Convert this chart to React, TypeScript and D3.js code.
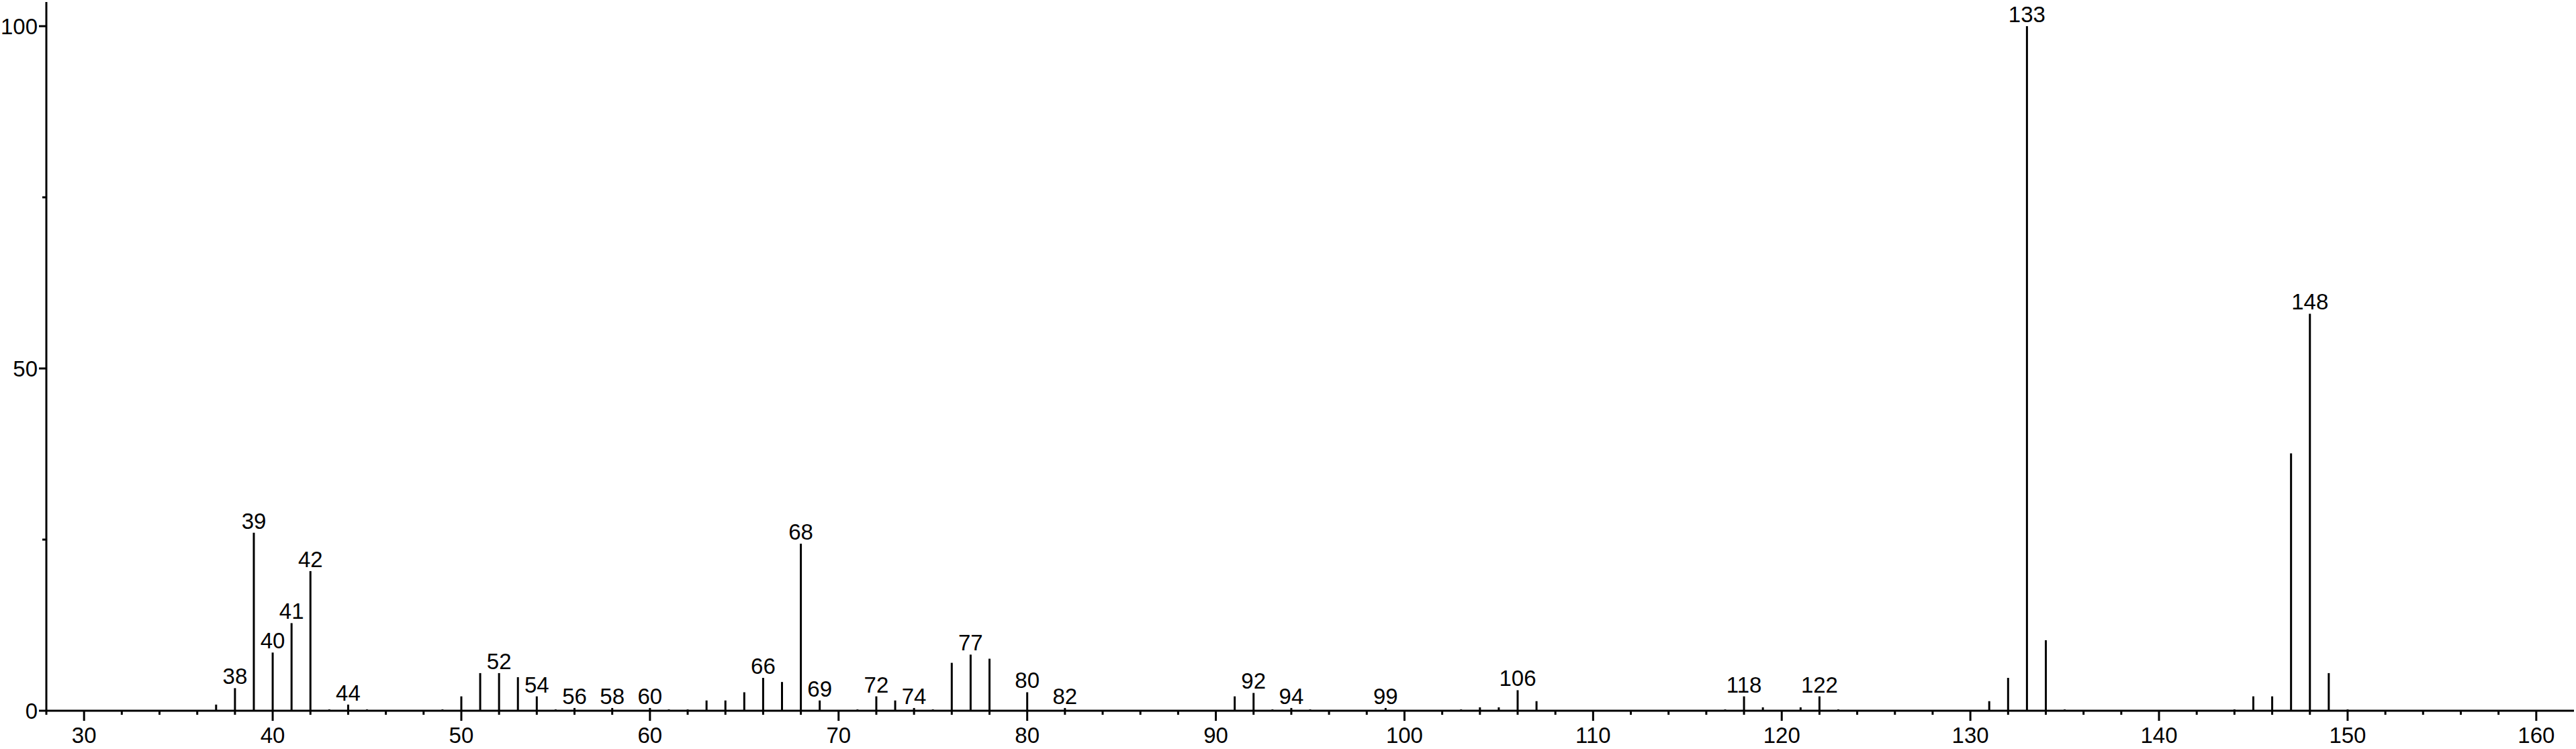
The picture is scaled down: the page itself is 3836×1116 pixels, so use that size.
import React from "react";
import * as d3 from "d3";

const mzValues = [37, 38, 39, 40, 41, 42, 43, 44, 45, 49, 50, 51, 52, 53, 54, 55, 56, 58, 60, 61, 62, 63, 64, 65, 66, 67, 68, 69, 71, 72, 73, 74, 75, 76, 77, 78, 80, 82, 91, 92, 93, 94, 95, 99, 103, 104, 105, 106, 107, 117, 118, 119, 121, 122, 123, 131, 132, 133, 134, 135, 144, 145, 146, 147, 148, 149, 150];
const intensities = [0.9, 3.3, 26.0, 8.5, 12.8, 20.4, 0.2, 0.9, 0.2, 0.2, 2.1, 5.5, 5.5, 4.9, 2.1, 0.2, 0.4, 0.4, 0.4, 0.2, 0.2, 1.5, 1.5, 2.7, 4.8, 4.2, 24.4, 1.5, 0.2, 2.1, 1.5, 0.4, 0.2, 7.0, 8.2, 7.6, 2.7, 0.4, 2.1, 2.6, 0.2, 0.4, 0.2, 0.4, 0.2, 0.5, 0.5, 3.0, 1.4, 0.2, 2.1, 0.5, 0.5, 2.1, 0.2, 1.4, 4.8, 100, 10.3, 0.2, 0.2, 2.1, 2.1, 37.6, 58.0, 5.5, 0.2];
const labeledPeaks = [38, 39, 40, 41, 42, 44, 52, 54, 56, 58, 60, 66, 68, 69, 72, 74, 77, 80, 82, 92, 94, 99, 106, 118, 122, 133, 148];
const xMajorTicks = [30, 40, 50, 60, 70, 80, 90, 100, 110, 120, 130, 140, 150, 160];
const yMajorTicks = [0, 50, 100];
const yMinorTicks = [25, 75];

export default function App() {
  const W = 3836;
  const H = 1116;
  const x = d3.scaleLinear().domain([28, 162]).range([69, 3833]);
  const y = d3.scaleLinear().domain([0, 100]).range([1059, 39]);
  const yTop = 3;
  const xMinorTicks = d3.range(28, 162, 2).filter((v) => v % 10 !== 0);
  const font = "'Liberation Sans', Arial, Helvetica, sans-serif";
  const fs = 33;
  const peaks = mzValues.map((m, i) => ({ m, v: intensities[i] }));

  return (
    <svg width={W} height={H} style={{ position: "absolute", left: 0, top: 0, background: "#fff" }}>
      <rect x={0} y={0} width={W} height={H} fill="#fff" />
      {/* peaks */}
      {peaks.map((p) => (
        <line key={"p" + p.m} x1={x(p.m)} x2={x(p.m)} y1={y(0)} y2={y(p.v)} stroke="#000" strokeWidth={3} />
      ))}
      {/* peak labels */}
      {peaks
        .filter((p) => labeledPeaks.includes(p.m))
        .map((p) => (
          <text key={"l" + p.m} x={x(p.m)} y={y(p.v) - 6} textAnchor="middle" fontFamily={font} fontSize={fs} fill="#000">
            {p.m}
          </text>
        ))}
      {/* x axis */}
      <line x1={x(28)} x2={x(162)} y1={y(0)} y2={y(0)} stroke="#000" strokeWidth={3} />
      {xMinorTicks.map((t) => (
        <line key={"xm" + t} x1={x(t)} x2={x(t)} y1={y(0)} y2={y(0) + 6} stroke="#000" strokeWidth={3} />
      ))}
      {xMajorTicks.map((t) => (
        <g key={"xM" + t}>
          <line x1={x(t)} x2={x(t)} y1={y(0)} y2={y(0) + 15} stroke="#000" strokeWidth={3} />
          <text x={x(t)} y={1107} textAnchor="middle" fontFamily={font} fontSize={fs} fill="#000">
            {t}
          </text>
        </g>
      ))}
      {/* y axis */}
      <line x1={x(28)} x2={x(28)} y1={yTop} y2={y(0)} stroke="#000" strokeWidth={3} />
      {yMinorTicks.map((t) => (
        <line key={"ym" + t} x1={x(28) - 6} x2={x(28)} y1={y(t)} y2={y(t)} stroke="#000" strokeWidth={3} />
      ))}
      {yMajorTicks.map((t) => (
        <g key={"yM" + t}>
          <line x1={x(28) - 11} x2={x(28)} y1={y(t)} y2={y(t)} stroke="#000" strokeWidth={3} />
          <text x={56} y={y(t)} dy="0.35em" textAnchor="end" fontFamily={font} fontSize={fs} fill="#000">
            {t}
          </text>
        </g>
      ))}
    </svg>
  );
}
